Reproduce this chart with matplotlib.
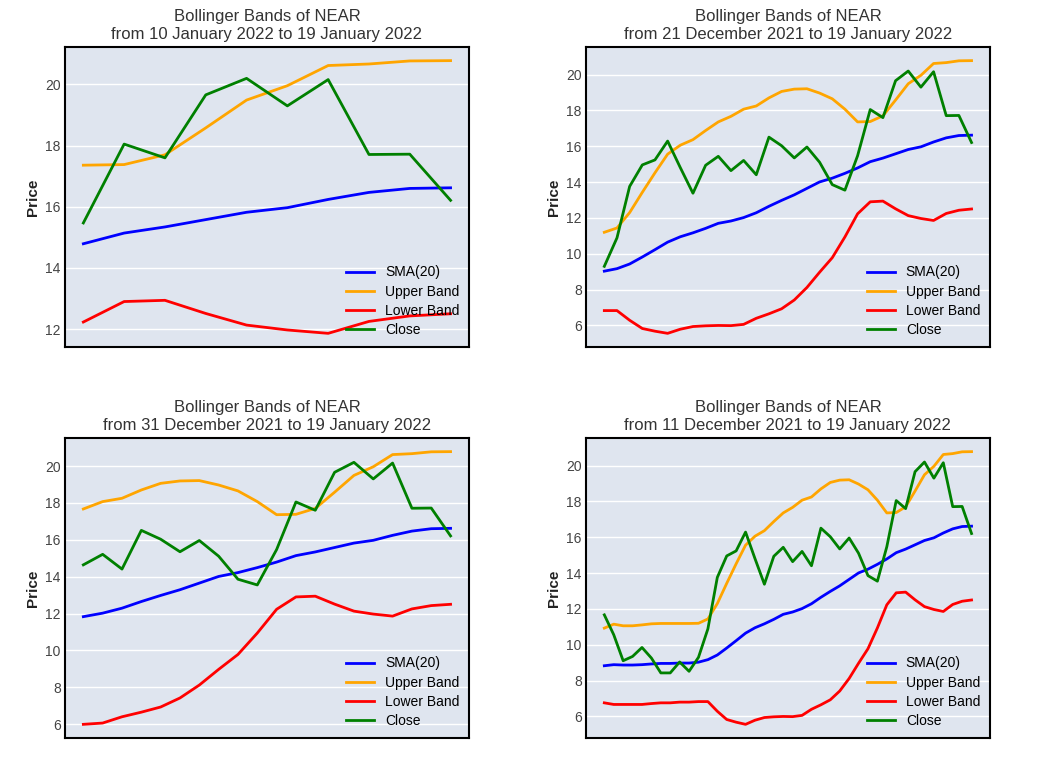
"""
Bollinger Bands of NEAR -- four look-back windows ending 19 January 2022.
"""

import pandas as pd
import matplotlib
matplotlib.use("Agg")
import matplotlib.pyplot as plt

# ── Data (11 Dec 2021 – 19 Jan 2022, daily) ───────────────────────────────────

DATES = pd.date_range("2021-12-11", "2022-01-19", freq="D")

CLOSE = [11.67, 10.56, 9.11, 9.35, 9.85, 9.26, 8.43, 8.43, 9.04, 8.52,
         9.30, 10.89, 13.76, 14.96, 15.24, 16.29, 14.81, 13.38, 14.94, 15.44,
         14.64, 15.21, 14.41, 16.51, 16.03, 15.35, 15.96, 15.11, 13.86, 13.55,
         15.47, 18.05, 17.60, 19.66, 20.20, 19.30, 20.16, 17.71, 17.72, 16.21]

SMA20 = [8.83, 8.89, 8.87, 8.87, 8.89, 8.93, 8.96, 8.96, 8.98, 8.98,
         9.03, 9.17, 9.43, 9.82, 10.23, 10.65, 10.95, 11.17, 11.42, 11.70,
         11.83, 12.02, 12.29, 12.65, 12.98, 13.29, 13.65, 14.01, 14.22, 14.49,
         14.79, 15.14, 15.34, 15.58, 15.82, 15.97, 16.24, 16.47, 16.60, 16.62]

UPPER = [10.93, 11.15, 11.06, 11.06, 11.11, 11.17, 11.19, 11.19, 11.19, 11.19,
         11.20, 11.44, 12.30, 13.43, 14.52, 15.56, 16.06, 16.37, 16.88, 17.36,
         17.67, 18.07, 18.25, 18.70, 19.06, 19.19, 19.21, 18.97, 18.65, 18.07,
         17.36, 17.38, 17.70, 18.58, 19.49, 19.96, 20.62, 20.67, 20.77, 20.78]

LOWER = [6.76, 6.67, 6.67, 6.67, 6.67, 6.72, 6.76, 6.76, 6.80, 6.80,
         6.83, 6.83, 6.29, 5.83, 5.68, 5.56, 5.79, 5.94, 5.98, 6.00,
         5.99, 6.06, 6.40, 6.65, 6.93, 7.42, 8.12, 8.97, 9.78, 10.94,
         12.23, 12.90, 12.94, 12.51, 12.13, 11.97, 11.86, 12.25, 12.43, 12.50]

# panel start dates, in reading order
WINDOW_STARTS = ["2022-01-10", "2021-12-21", "2021-12-31", "2021-12-11"]

BG_COLOR = "#dfe5ef"

df = pd.DataFrame({"close": CLOSE, "sma": SMA20, "upper": UPPER, "lower": LOWER},
                  index=DATES)

plt.rcParams["font.family"] = ["Liberation Sans", "DejaVu Sans"]

fig = plt.figure(figsize=(10.43, 7.82), dpi=100)

# axes rectangles in figure fractions: [left, bottom, width, height]
W, H = 0.3873, 0.3836
POSITIONS = [
    [0.0623, 0.5563, W, H],
    [0.5618, 0.5563, W, H],
    [0.0623, 0.0563, W, H],
    [0.5618, 0.0563, W, H],
]


def fmt_date(d):
    return f"{d.day} {d.strftime('%B %Y')}"


for start, pos in zip(WINDOW_STARTS, POSITIONS):
    sub = df.loc[start:]
    ax = fig.add_axes(pos)
    ax.set_facecolor(BG_COLOR)

    ax.plot(sub.index, sub["sma"],   color="blue",   lw=2, label="SMA(20)")
    ax.plot(sub.index, sub["upper"], color="orange", lw=2, label="Upper Band")
    ax.plot(sub.index, sub["lower"], color="red",    lw=2, label="Lower Band")
    ax.plot(sub.index, sub["close"], color="green",  lw=2, label="Close")

    ax.set_title(f"Bollinger Bands of NEAR\nfrom {fmt_date(sub.index[0])} to "
                 f"{fmt_date(sub.index[-1])}", fontsize=12, color="#333333")
    ax.set_ylabel("Price", fontsize=11, fontweight="bold", color="#222222")

    ax.set_xticks([])
    ax.tick_params(axis="y", length=0, pad=3, labelsize=10, labelcolor="#444444")
    ax.grid(axis="y", color="white", lw=1)
    ax.set_axisbelow(True)
    for sp in ax.spines.values():
        sp.set_color("black")
        sp.set_linewidth(1.5)

    ax.legend(loc="lower right", frameon=False, fontsize=10,
              labelspacing=0.38, borderaxespad=0.3)

plt.savefig("out.png", dpi=100)
